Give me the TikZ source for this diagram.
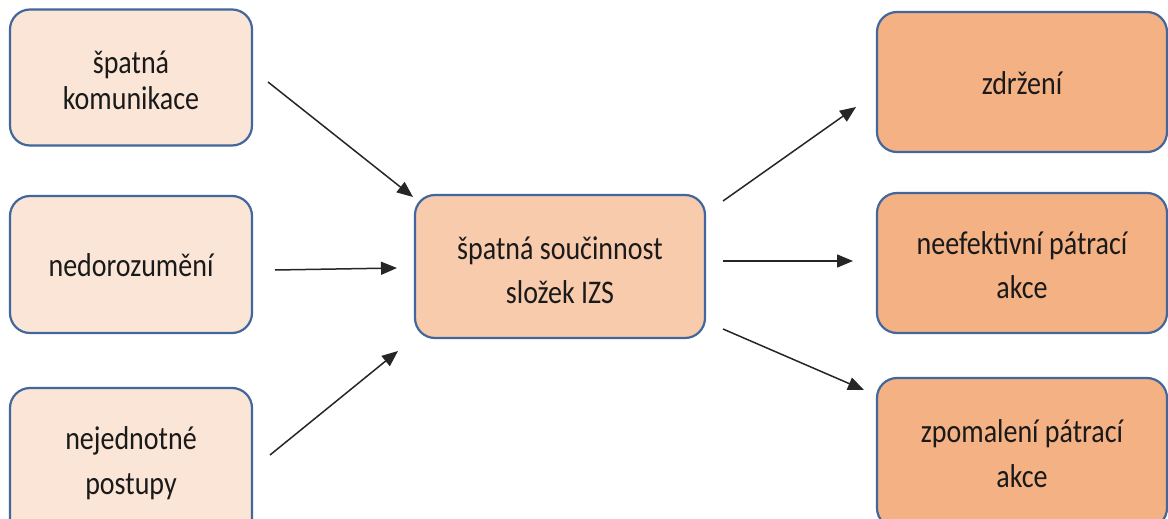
\documentclass[tikz,border=0pt]{standalone}
\usepackage{fontspec}
\setmainfont{Carlito}
\usepackage{graphicx}
\usetikzlibrary{arrows.meta}
\definecolor{fillA}{HTML}{FBE5D6}
\definecolor{fillB}{HTML}{F8CBAD}
\definecolor{fillC}{HTML}{F4B183}
\definecolor{edgeblue}{HTML}{41679C}
\definecolor{txt}{HTML}{1A1A1A}
\newcommand{\boxtext}[2][0pt]{\raisebox{-#1}[\height][\depth]{\scalebox{1}[1.18]{\begin{tabular}{@{}c@{}}#2\end{tabular}}}}
\tikzset{
  box/.style={draw=edgeblue, line width=2.2pt, rounded corners=20pt, inner sep=0pt,
    text=txt, font=\fontsize{28}{38}\selectfont, align=center},
  lbox/.style={box, fill=fillA, minimum width=242pt},
  cbox/.style={box, fill=fillB, minimum width=290pt},
  rbox/.style={box, fill=fillC, minimum width=290pt},
  arr/.style={line width=1.5pt, draw=black!85, -{Triangle[length=16pt,width=13pt]}}
}
\begin{document}
\begin{tikzpicture}[x=1pt,y=-1pt]
\useasboundingbox (0,0) rectangle (1168,519);
\fill[white] (0,0) rectangle (1168,519);
% left column
\node[lbox, minimum height=136pt] (l1) at (131,77.5) {\fontsize{28}{30.5}\selectfont\boxtext[7pt]{špatná\\komunikace}};
\node[lbox, minimum height=137pt] (l2) at (131,264.5) {\boxtext[3pt]{nedorozumění}};
\node[lbox, minimum height=150pt] (l3) at (131,463) {\boxtext{nejednotné\\postupy}};
% center
\node[cbox, minimum height=143pt] (c) at (560,266.5) {\boxtext[6pt]{špatná součinnost\\složek IZS}};
% right column
\node[rbox, minimum height=140pt] (r1) at (1022,82) {\boxtext[4pt]{zdržení}};
\node[rbox, minimum height=140pt] (r2) at (1022,263) {\boxtext[4.5pt]{neefektivní pátrací\\akce}};
\node[rbox, minimum height=150pt] (r3) at (1022,453) {\boxtext[3pt]{zpomalení pátrací\\akce}};
% arrow end points
\coordinate (a1s) at (268,82);  \coordinate (a1e) at (413,197);
\coordinate (a2s) at (275,270); \coordinate (a2e) at (397,268);
\coordinate (a3s) at (270,455); \coordinate (a3e) at (398,351);
\coordinate (a4s) at (723,201); \coordinate (a4e) at (856,107);
\coordinate (a5s) at (723,261); \coordinate (a5e) at (853,261);
\coordinate (a6s) at (723,329); \coordinate (a6e) at (864,390);
\draw[arr] (a1s) -- (a1e);
\draw[arr] (a2s) -- (a2e);
\draw[arr] (a3s) -- (a3e);
\draw[arr] (a4s) -- (a4e);
\draw[arr] (a5s) -- (a5e);
\draw[arr] (a6s) -- (a6e);
\end{tikzpicture}
\end{document}
